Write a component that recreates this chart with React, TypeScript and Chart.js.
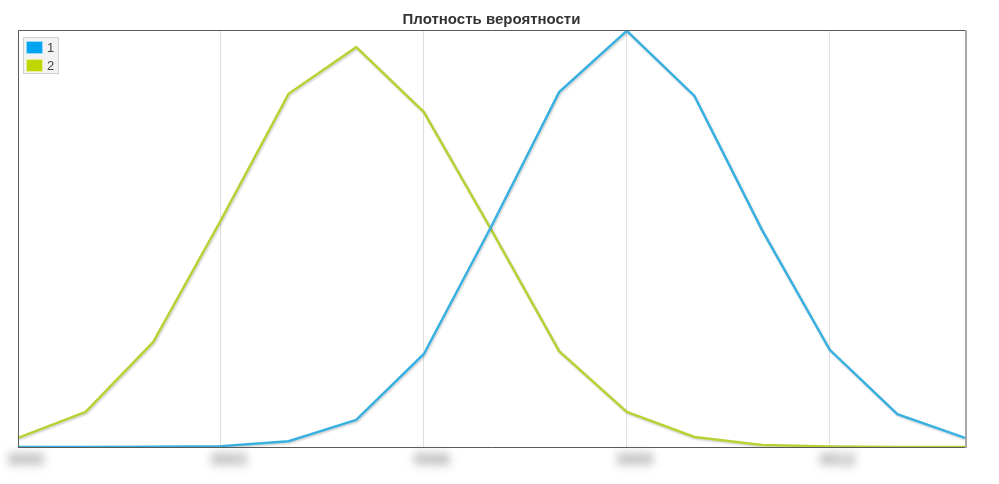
import React, { useEffect, useRef } from "react";
import { Chart, registerables } from "chart.js";

Chart.register(...registerables);

const title = "Плотность вероятности";
const categories = ["0", "1", "2", "3", "4", "5", "6", "7", "8", "9", "10", "11", "12", "13", "14"];
const seriesNames = ["1", "2"];
const series1 = [0, 0, 0.0005, 0.002, 0.014, 0.065, 0.223, 0.53, 0.851, 0.998, 0.842, 0.52, 0.233, 0.079, 0.022];
const series2 = [0.022, 0.084, 0.252, 0.544, 0.847, 0.959, 0.803, 0.52, 0.23, 0.084, 0.024, 0.005, 0.001, 0, 0];
const lineColors = ["#38b0e0", "#b6d235"];
const legendColors = ["#00a3ef", "#bfd600"];
const FONT = '"Liberation Sans", Arial, sans-serif';

export default function App() {
  const ref = useRef<HTMLCanvasElement | null>(null);

  useEffect(() => {
    document.body.style.margin = "0";
    const canvas = ref.current;
    if (!canvas) return;

    const decor = {
      id: "decor",
      beforeDatasetDraw(chart: any) {
        const ctx = chart.ctx;
        ctx.save();
        ctx.shadowColor = "rgba(0,0,0,0.18)";
        ctx.shadowOffsetX = 1;
        ctx.shadowOffsetY = 1.5;
        ctx.shadowBlur = 2;
      },
      afterDatasetDraw(chart: any) {
        chart.ctx.restore();
      },
      afterDraw(chart: any) {
        const ctx = chart.ctx;
        const a = chart.chartArea;
        const xs = chart.scales.x;
        // frame
        ctx.save();
        ctx.strokeStyle = "#5a5a5a";
        ctx.lineWidth = 1;
        ctx.beginPath();
        ctx.moveTo(a.left + 0.5, a.bottom + 0.5);
        ctx.lineTo(a.left + 0.5, a.top + 0.5);
        ctx.lineTo(a.right, a.top + 0.5);
        ctx.stroke();
        ctx.beginPath();
        ctx.moveTo(a.left, a.bottom + 0.5);
        ctx.lineTo(a.right, a.bottom + 0.5);
        ctx.stroke();
        ctx.strokeStyle = "#a8a8a8";
        ctx.lineWidth = 2;
        ctx.beginPath();
        ctx.moveTo(a.right + 1, a.top);
        ctx.lineTo(a.right + 1, a.bottom + 1);
        ctx.stroke();
        ctx.restore();

        // title
        ctx.save();
        ctx.fillStyle = "#333";
        ctx.font = "bold 15px " + FONT;
        ctx.textAlign = "center";
        ctx.textBaseline = "middle";
        ctx.fillText(title, (a.left + a.right) / 2, 20);
        ctx.restore();

        // blurred tick labels
        ctx.save();
        ctx.filter = "blur(5px)";
        ctx.fillStyle = "#8a8a8a";
        ctx.font = "bold 16px " + FONT;
        ctx.textAlign = "center";
        ctx.textBaseline = "middle";
        categories.forEach((c, i) => {
          if (i % 3 !== 0) return;
          const x = xs.getPixelForValue(i);
          ctx.fillText(c.padStart(4, "0"), x + 8, a.bottom + 14);
        });
        ctx.restore();

        // legend
        ctx.save();
        const lx = a.left + 5, ly = a.top + 7;
        ctx.fillStyle = "#f3f3f3";
        ctx.fillRect(lx, ly, 36, 37);
        ctx.strokeStyle = "#cfcfcf";
        ctx.lineWidth = 1;
        ctx.strokeRect(lx + 0.5, ly + 0.5, 35, 36);
        ctx.font = "13px " + FONT;
        ctx.textBaseline = "middle";
        ctx.textAlign = "left";
        seriesNames.forEach((n, i) => {
          const y = ly + 4 + i * 18;
          ctx.fillStyle = legendColors[i];
          ctx.fillRect(lx + 3, y, 17, 13);
          ctx.strokeStyle = "rgba(255,255,255,0.6)";
          ctx.strokeRect(lx + 3.5, y + 0.5, 16, 12);
          ctx.fillStyle = "#444";
          ctx.fillText(n, lx + 24, y + 7);
        });
        ctx.restore();
      },
    };

    const chart = new Chart(canvas, {
      type: "line",
      data: {
        labels: categories,
        datasets: [
          { label: seriesNames[0], data: series1, borderColor: lineColors[0], backgroundColor: legendColors[0], borderWidth: 2.5, pointRadius: 0, tension: 0, fill: false },
          { label: seriesNames[1], data: series2, borderColor: lineColors[1], backgroundColor: legendColors[1], borderWidth: 2.5, pointRadius: 0, tension: 0, fill: false },
        ],
      },
      options: {
        animation: false,
        responsive: false,
        maintainAspectRatio: false,
        layout: { padding: { top: 30, left: 18, right: 34, bottom: 0 } },
        plugins: { legend: { display: false }, title: { display: false }, tooltip: { enabled: false } },
        scales: {
          x: {
            offset: false,
            border: { display: false },
            grid: {
              color: (c: any) => (c.index % 3 === 0 ? "#e0e0e0" : "rgba(0,0,0,0)"),
              drawTicks: false,
            },
            ticks: { display: false, autoSkip: false },
            afterFit: (s: any) => { s.height = 37; },
          },
          y: { display: false, min: 0, max: 1 },
        },
      },
      plugins: [decor],
    });
    return () => chart.destroy();
  }, []);

  return <canvas ref={ref} width={999} height={484} style={{ display: "block" }} />;
}
